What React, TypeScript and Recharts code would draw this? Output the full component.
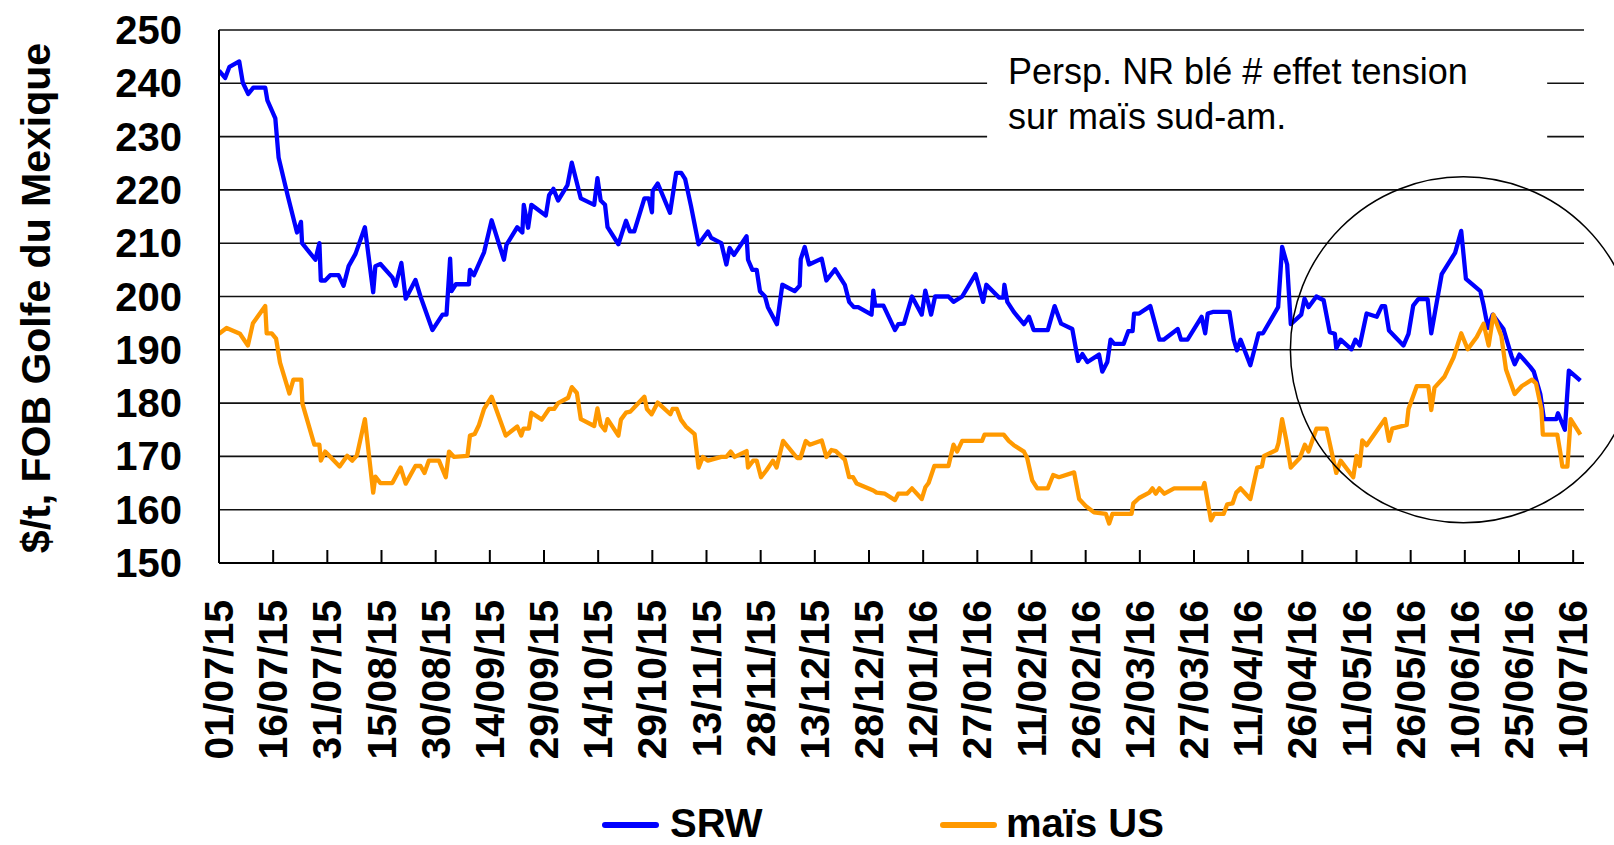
import { LineChart, Line, XAxis, YAxis, CartesianGrid, ReferenceArea, ReferenceDot } from 'recharts'

// days counted from 01/07/15
const srwDays = [
  0, 1.7, 2.9, 5.6, 6.6, 8.1, 9.5, 12.8, 13.4, 15.6, 16.5, 19, 21.6, 22.7, 23, 26.7, 27.8, 28.2, 29.4, 30.8,
  33.1, 34.5, 35.9, 37.8, 40.4, 42.7, 43.3, 44.7, 48, 48.9, 50.5, 51.7, 54.4, 55.8, 59.1, 61.9, 63, 64, 64.4, 65.6,
  69.2, 69.5, 70.6, 73.4, 75.5, 78.9, 79.6, 82.6, 84, 84.4, 85.6, 86.5, 90.5, 91.4, 92.6, 93.9, 96.5, 97.7, 100.2, 103.9,
  104.8, 105.7, 106.9, 107.6, 110.6, 112.7, 113.8, 115, 117.8, 119, 119.9, 120.1, 121.5, 124.9, 126.6, 128, 129.1, 130.7, 132.8, 135.4,
  136.3, 139.1, 140.5, 141.4, 142.6, 146.1, 146.5, 147.7, 148.9, 149.8, 151.2, 152, 154.5, 156, 159.4, 160.8, 161.1, 162.2, 163.4, 166.9,
  168.2, 170.6, 173.3, 174.5, 175.8, 177, 180.7, 181.2, 181.7, 184, 187.2, 188.1, 189.7, 191.9, 194.6, 195.6, 197.2, 198.3, 202, 203.4,
  205.8, 209.5, 211.6, 212.5, 216, 217.2, 217.5, 218.3, 220.1, 222.9, 224.3, 225.6, 229.5, 231.4, 233.2, 236.3, 237.9, 239.1, 240.5, 243.7,
  244.6, 246, 246.9, 247.9, 250.5, 251.8, 253, 253.4, 254.8, 257.9, 260.4, 261.6, 265.5, 266.4, 268.2, 272.1, 273.1, 273.8, 275.2, 279.8,
  281, 281.9, 282.9, 285.6, 287.9, 289.1, 293.3, 294.4, 295.8, 296.8, 299.7, 300.6, 301.7, 303.9, 305.9, 307.6, 309, 309.4, 310.6, 313.6,
  314.7, 315.9, 317.8, 320.6, 322, 322.9, 324, 328, 329.4, 330.7, 332.1, 334.7, 335.7, 338.6, 342.3, 344, 345.3, 349.3, 350.2, 351.4,
  352.7, 355.7, 357.9, 358.8, 360.1, 363.1, 364.1, 365.9, 366.9, 370.3, 370.8, 372.7, 373.8, 377,
]
const srwPrices = [
  242.4, 241.0, 243.1, 244.1, 240.1, 238.0, 239.2, 239.2, 236.8, 233.4, 226.1, 219.0, 212.0, 214.0, 210.0, 206.9, 210.0, 203.0, 203.0, 204.0,
  204.0, 202.0, 205.7, 208.0, 213.0, 200.8, 205.7, 206.1, 203.6, 202.0, 206.3, 199.6, 203.1, 200.0, 193.7, 196.6, 196.6, 207.1, 201.0, 202.3,
  202.3, 205.0, 204.0, 208.3, 214.3, 206.9, 209.7, 213.0, 212.0, 217.2, 212.9, 217.2, 215.2, 219.0, 220.2, 218.0, 220.9, 225.1, 218.4, 217.2,
  222.2, 218.0, 217.2, 213.0, 209.8, 214.2, 212.2, 212.2, 218.4, 218.4, 215.8, 219.8, 221.2, 215.7, 223.2, 223.2, 222.0, 217.0, 209.8, 212.2,
  211.0, 210.0, 206.0, 209.1, 207.8, 211.3, 206.9, 205.0, 205.0, 201.0, 200.0, 198.0, 194.8, 202.2, 201.0, 202.0, 207.0, 209.3, 206.0, 207.1,
  203.0, 205.1, 202.2, 199.0, 198.0, 198.0, 196.6, 201.1, 198.3, 198.3, 193.7, 194.8, 194.9, 200.0, 196.6, 201.1, 196.6, 200.0, 200.0, 199.0,
  200.0, 204.2, 199.0, 202.2, 199.8, 199.8, 202.2, 199.0, 197.1, 194.8, 196.2, 193.7, 193.7, 198.2, 194.9, 193.9, 187.9, 189.2, 187.7, 189.1,
  185.9, 187.7, 191.9, 191.1, 191.1, 193.5, 193.5, 196.8, 196.8, 198.2, 191.9, 191.9, 193.9, 191.9, 191.9, 196.2, 193.1, 196.8, 197.1, 197.1,
  191.9, 189.9, 191.9, 187.1, 193.1, 193.1, 198.0, 209.3, 206.0, 194.8, 196.6, 199.6, 198.0, 200.0, 199.3, 193.3, 193.0, 190.3, 191.9, 190.1,
  191.9, 190.8, 196.8, 196.2, 198.2, 198.2, 193.6, 190.8, 193.0, 198.3, 199.5, 199.5, 193.1, 204.2, 208.2, 212.3, 203.3, 201.0, 198.3, 194.1,
  196.6, 193.9, 188.9, 187.3, 189.1, 186.8, 185.9, 181.7, 177.0, 177.0, 178.1, 175.0, 186.1, 184.2,
]

const maisDays = [
  0, 2.1, 5.8, 8, 9.4, 12.8, 13.2, 14.6, 15.8, 16.9, 19.5, 20.6, 22.8, 23.1, 26.4, 27.8, 28.2, 29.4, 33.4, 35.5,
  36.9, 38.2, 40.4, 42.7, 43.3, 44.7, 48, 50.3, 51.7, 54.4, 55.8, 56.9, 58.1, 60.9, 62.8, 63.7, 65.1, 68.8, 69.5, 70.8,
  72, 73.4, 75.5, 79.4, 82.6, 83.7, 84.3, 85.8, 86.5, 89.4, 91.4, 92.8, 93.9, 96.7, 97.7, 99.1, 100.2, 103.9, 104.8, 105.7,
  106.9, 107.6, 110.6, 111.3, 112.7, 113.9, 115.7, 117.8, 118.5, 119.8, 121.5, 125, 125.6, 126.8, 127.9, 129.3, 131.7, 132.8, 134, 135.4,
  139.1, 140.5, 141.7, 142.8, 146.1, 146.5, 147.9, 148.9, 150.1, 151.6, 153.4, 154.4, 156.2, 160.1, 161, 162.5, 163.6, 166.9, 168.2, 169.6,
  170.8, 173.3, 174.5, 175.6, 176.6, 181.2, 182.1, 184.4, 187.2, 188.1, 190.5, 191.9, 194.6, 195.6, 196.5, 198.1, 202, 203.4, 204.4, 205.8,
  211.3, 212, 217.3, 218.7, 220.1, 222.9, 223.8, 225.2, 226.6, 229.5, 231, 232.6, 236.8, 238.2, 240, 242.3, 245.6, 246.5, 247.4, 252.7,
  253.2, 254.8, 257.6, 258.5, 259.4, 260.4, 261.8, 264.5, 272.4, 272.9, 274.7, 275.6, 278.2, 279.2, 280.7, 281.7, 282.9, 285.6, 287.5, 288.8,
  289.4, 292.8, 293.4, 294.4, 295.6, 296.8, 299.3, 300.7, 301.7, 303.9, 306.7, 309.4, 310.6, 314.1, 315, 315.9, 316.6, 317.8, 321, 322.9,
  324, 324.9, 328.9, 329.4, 331.7, 334.9, 335.7, 336.6, 339.4, 341.9, 344, 345.8, 348.3, 350.2, 351.6, 352.9, 355.1, 356.4, 358.8, 360.8,
  363.6, 364.7, 366.2, 366.6, 370.6, 371.5, 372, 373.4, 374.3, 377,
]
const maisPrices = [
  193.0, 194.1, 193.0, 190.8, 195.0, 198.2, 193.1, 193.1, 192.1, 187.6, 181.8, 184.4, 184.4, 179.9, 172.2, 172.2, 169.2, 170.9, 168.1, 170.1,
  169.2, 170.2, 177.0, 163.2, 166.2, 165.0, 165.0, 167.9, 164.9, 168.2, 168.2, 166.9, 169.2, 169.2, 166.1, 170.9, 169.9, 170.1, 173.9, 174.2,
  175.9, 178.9, 181.2, 173.9, 175.6, 173.9, 175.2, 175.2, 178.2, 176.9, 178.9, 178.9, 180.0, 181.0, 183.0, 181.9, 177.0, 175.7, 179.0, 175.9,
  174.9, 177.0, 173.9, 176.9, 178.2, 178.4, 179.7, 181.2, 178.9, 177.9, 180.1, 177.9, 178.9, 178.9, 176.9, 175.6, 174.2, 167.9, 169.9, 169.2,
  169.9, 169.9, 170.9, 169.9, 171.0, 167.9, 169.2, 169.2, 166.1, 167.4, 169.2, 167.9, 172.9, 169.7, 169.7, 172.9, 172.2, 173.0, 169.9, 171.2,
  171.0, 169.4, 166.1, 166.1, 164.9, 163.6, 163.2, 163.0, 161.8, 163.0, 163.0, 164.0, 162.0, 164.2, 165.0, 168.2, 168.2, 172.2, 170.9, 172.9,
  172.9, 174.1, 174.1, 172.9, 172.1, 170.9, 169.7, 165.5, 164.0, 164.0, 166.5, 166.1, 167.0, 162.0, 160.7, 159.5, 159.2, 157.4, 159.2, 159.2,
  161.2, 162.2, 163.2, 164.0, 163.0, 164.0, 163.0, 164.0, 164.0, 165.0, 158.0, 159.2, 159.2, 161.0, 161.2, 163.2, 164.0, 162.0, 167.9, 168.1,
  170.1, 171.2, 172.5, 177.0, 172.9, 167.9, 169.7, 172.2, 170.9, 175.2, 175.2, 166.9, 169.2, 166.1, 170.1, 168.2, 173.0, 172.1, 175.2, 177.0,
  172.9, 175.2, 175.9, 178.9, 183.2, 183.2, 178.7, 182.9, 185.0, 188.6, 193.1, 190.1, 192.4, 194.9, 190.8, 196.6, 192.6, 186.3, 181.7, 183.2,
  184.4, 183.7, 178.9, 174.1, 174.1, 170.5, 168.1, 168.1, 177.0, 174.1,
]

const tickDays = [0, 15, 30, 45, 60, 75, 90, 105, 120, 135, 150, 165, 180, 195, 210, 225, 240, 255, 270, 285, 300, 315, 330, 345, 360, 375]
const tickLabels = [
  '01/07/15', '16/07/15', '31/07/15', '15/08/15', '30/08/15', '14/09/15', '29/09/15', '14/10/15', '29/10/15', '13/11/15',
  '28/11/15', '13/12/15', '28/12/15', '12/01/16', '27/01/16', '11/02/16', '26/02/16', '12/03/16', '27/03/16', '11/04/16',
  '26/04/16', '11/05/16', '26/05/16', '10/06/16', '25/06/16', '10/07/16',
]
const priceTicks = [150, 160, 170, 180, 190, 200, 210, 220, 230, 240, 250]

const noteLines = ['Persp. NR blé # effet tension', 'sur maïs sud-am.']

const FONT = '"Liberation Sans", Arial, sans-serif'

const srwData = srwDays.map((d, i) => ({ day: d, price: srwPrices[i] }))
const maisData = maisDays.map((d, i) => ({ day: d, price: maisPrices[i] }))

function DateTick(props: any) {
  const { x, y, payload } = props
  const label = tickLabels[tickDays.indexOf(payload.value)]
  return (
    <text
      x={x}
      y={y}
      transform={`rotate(-90 ${x} ${y})`}
      textAnchor="end"
      dominantBaseline="central"
      fontSize={41}
      fontWeight="bold"
      fontFamily={FONT}
      fill="#000"
    >
      {label}
    </text>
  )
}

function PriceTick(props: any) {
  const { x, y, payload } = props
  return (
    <text x={x} y={y} textAnchor="end" dominantBaseline="central" fontSize={40} fontWeight="bold" fontFamily={FONT} fill="#000">
      {payload.value}
    </text>
  )
}

function NoteLabel(props: any) {
  const { viewBox } = props
  if (!viewBox) return null
  return (
    <g>
      {noteLines.map((line, i) => (
        <text key={i} x={viewBox.x + 21} y={viewBox.y + 43 + i * 45} fontSize={36} fontFamily={FONT} fill="#000">
          {line}
        </text>
      ))}
    </g>
  )
}

export default function App() {
  return (
    <div style={{ position: 'absolute', left: 0, top: 0, width: 1614, height: 845, background: '#fff', overflow: 'hidden', fontFamily: FONT }}>
      <LineChart width={1614} height={845} margin={{ top: 30, right: 30, bottom: 32, left: 0 }}>
        <CartesianGrid vertical={false} stroke="#111" strokeWidth={1.6} />
        <XAxis
          type="number"
          dataKey="day"
          domain={[0, 378]}
          ticks={tickDays}
          allowDataOverflow
          height={250}
          stroke="#000"
          strokeWidth={2}
          tickSize={-13}
          tickMargin={50}
          tick={<DateTick />}
          interval={0}
        />
        <YAxis
          type="number"
          domain={[150, 250]}
          ticks={priceTicks}
          allowDataOverflow
          width={219}
          stroke="#000"
          strokeWidth={2}
          tickLine={false}
          tickSize={0}
          tickMargin={37}
          tick={<PriceTick />}
          interval={0}
        />
        <ReferenceArea x1={212.7} x2={367.8} y1={222} y2={248} fill="#fff" fillOpacity={1} stroke="none" ifOverflow="visible" label={NoteLabel} />
        <Line data={srwData} dataKey="price" type="linear" stroke="#0000ff" strokeWidth={4.3} dot={false} strokeLinejoin="round" isAnimationActive={false} />
        <Line data={maisData} dataKey="price" type="linear" stroke="#ff9900" strokeWidth={4.3} dot={false} strokeLinejoin="round" isAnimationActive={false} />
        <ReferenceDot x={344.6} y={190} r={173} fill="none" stroke="#000" strokeWidth={1.5} ifOverflow="visible" />
      </LineChart>

      <div
        style={{
          position: 'absolute', left: 36 - 300, top: 298 - 25, width: 600, height: 50, lineHeight: '50px',
          transform: 'rotate(-90deg)', textAlign: 'center', fontSize: 41, fontWeight: 'bold', color: '#000', whiteSpace: 'nowrap',
        }}
      >
        $/t, FOB Golfe du Mexique
      </div>

      <div style={{ position: 'absolute', left: 602, top: 822, width: 57, height: 6, borderRadius: 3, background: '#0000ff' }} />
      <div style={{ position: 'absolute', left: 670, top: 803, fontSize: 40, fontWeight: 'bold', lineHeight: '40px', color: '#000' }}>SRW</div>
      <div style={{ position: 'absolute', left: 940, top: 822, width: 57, height: 6, borderRadius: 3, background: '#ff9900' }} />
      <div style={{ position: 'absolute', left: 1006, top: 803, fontSize: 40, fontWeight: 'bold', lineHeight: '40px', color: '#000' }}>maïs US</div>
    </div>
  )
}
